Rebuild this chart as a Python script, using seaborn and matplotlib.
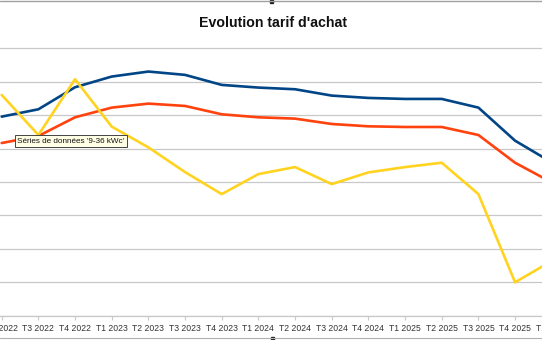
import matplotlib
matplotlib.use("Agg")
import matplotlib.pyplot as plt
import seaborn as sns
import pandas as pd
from matplotlib.lines import Line2D
from matplotlib.patches import Rectangle

quarters = ["T2 2022", "T3 2022", "T4 2022", "T1 2023", "T2 2023", "T3 2023",
            "T4 2023", "T1 2024", "T2 2024", "T3 2024", "T4 2024", "T1 2025",
            "T2 2025", "T3 2025", "T4 2025", "T1 2026"]
serie_0_3 = [11.92, 12.36, 13.68, 14.32, 14.62, 14.42, 13.82, 13.66, 13.56,
             13.18, 13.04, 12.98, 12.98, 12.46, 10.48, 9.18]
serie_3_9 = [10.34, 10.76, 11.88, 12.46, 12.70, 12.56, 12.06, 11.88, 11.80,
             11.48, 11.34, 11.30, 11.30, 10.82, 9.16, 7.98]
serie_9_36 = [13.22, 10.82, 14.16, 11.32, 10.08, 8.60, 7.28, 8.48, 8.90,
              7.88, 8.58, 8.90, 9.16, 7.28, 2.00, 3.28]
series_names = ["0-3 kWc", "3-9 kWc", "9-36 kWc"]
colors = ["#004586", "#ff420e", "#ffd320"]

rows = []
for name, vals in zip(series_names, [serie_0_3, serie_3_9, serie_9_36]):
    for q, v in zip(quarters, vals):
        rows.append({"Trimestre": q, "Tarif": v, "Série": name})
df = pd.DataFrame(rows)

sns.set_theme(style="white")
plt.rcParams["font.family"] = ["Liberation Sans", "DejaVu Sans"]

W, H = 542, 340
fig = plt.figure(figsize=(W / 100, H / 100), dpi=100)
fig.patch.set_facecolor("white")

step_px = 36.67
x0_px = 1.7
left_px = x0_px - 0.5 * step_px
width_px = 16 * step_px
unit_px = 33.4 / 2
y0_px = 315.7
ytop_val = 16.5
top_px = y0_px - ytop_val * unit_px
ax = fig.add_axes([left_px / W, 1 - y0_px / H, width_px / W, (y0_px - top_px) / H])

sns.lineplot(data=df, x="Trimestre", y="Tarif", hue="Série", palette=colors,
             sort=False, linewidth=1.9, legend=False, ax=ax)

ax.set_xlim(-0.5, 15.5)
ax.set_ylim(0, ytop_val)
ax.set_yticks(range(0, 17, 2))
ax.set_yticklabels([])
ax.tick_params(axis="y", length=0)
ax.grid(axis="y", color="#c8c8c8", linewidth=0.9)
ax.grid(axis="x", visible=False)
ax.set_axisbelow(True)
for s in ["top", "right", "left"]:
    ax.spines[s].set_visible(False)
ax.spines["bottom"].set_color("#c8c8c8")
ax.spines["bottom"].set_linewidth(0.9)
ax.set_xticks(range(len(quarters)))
ax.set_xticklabels(quarters, fontsize=6.2, color="#333333")
ax.tick_params(axis="x", length=3, width=0.8, color="#c8c8c8", pad=3, bottom=True)
ax.set_xlabel("")
ax.set_ylabel("")

fig.text(273 / W, 1 - 26.7 / H, "Evolution tarif d'achat", ha="center",
         va="baseline", fontsize=10.2, fontweight="bold", color="#111111")

fig.text(71 / W, 1 - 141.3 / H, "Séries de données '9-36 kWc'", ha="center",
         va="center", fontsize=5.9, color="#111111",
         bbox=dict(boxstyle="square,pad=0.32", facecolor="#ffffe6",
                   edgecolor="#444444", linewidth=0.7))

# selection border lines and handles
fig.add_artist(Line2D([0, 1], [1 - 0.8 / H, 1 - 0.8 / H], color="#a0a0a0",
                      linewidth=1.0, transform=fig.transFigure))
fig.add_artist(Line2D([0, 1], [1 - 337.8 / H, 1 - 337.8 / H], color="#b0b0b0",
                      linewidth=0.8, transform=fig.transFigure))
fig.add_artist(Rectangle((269.5 / W, 1 - 2.5 / H), 3 / W, 2.5 / H,
                         transform=fig.transFigure, color="#222222"))
fig.add_artist(Rectangle((270.5 / W, 0), 3 / W, 3 / H,
                         transform=fig.transFigure, color="#222222"))

fig.savefig("out.png", dpi=100)
